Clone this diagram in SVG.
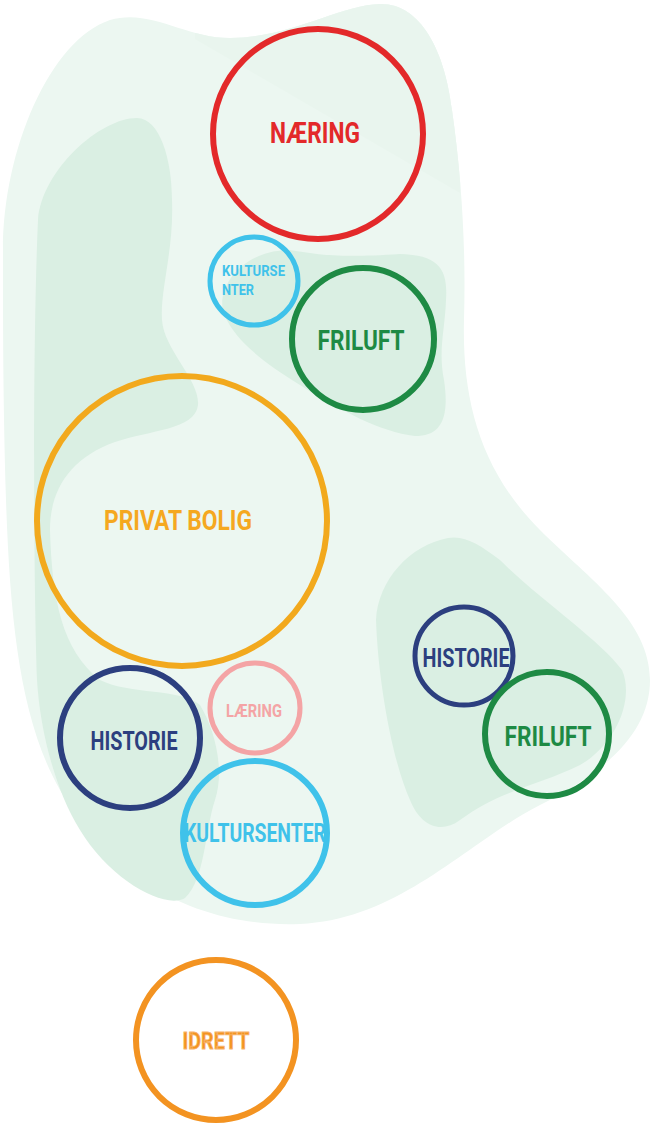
<svg xmlns="http://www.w3.org/2000/svg" width="650" height="1124" viewBox="0 0 650 1124">
<defs>
<clipPath id="outerClip"><path d="M 3,250 C 3,150 50,40 110,20 C 150,8 185,38 230,38 C 290,38 340,5 380,4 C 420,3 445,50 452,110 C 462,180 466,250 464,320 C 462,400 480,470 540,530 C 590,580 650,620 650,680 C 650,730 610,770 540,805 C 470,840 400,920 300,924 C 200,928 110,880 60,790 C 20,720 10,620 6,500 C 3,400 3,330 3,250 Z"/></clipPath>
</defs>
<style>
.bg{fill:#ecf7f1}
.bg2{fill:#daefe3}
.ring{fill:none}
.lbl{font-family:Roboto,"Liberation Sans",sans-serif;font-weight:700;text-anchor:middle}
</style>
<rect width="650" height="1124" fill="#ffffff"/>
<g id="background">
<path class="bg" d="M 3,250 C 3,150 50,40 110,20 C 150,8 185,38 230,38 C 290,38 340,5 380,4 C 420,3 445,50 452,110 C 462,180 466,250 464,320 C 462,400 480,470 540,530 C 590,580 650,620 650,680 C 650,730 610,770 540,805 C 470,840 400,920 300,924 C 200,928 110,880 60,790 C 20,720 10,620 6,500 C 3,400 3,330 3,250 Z"/>
<polygon points="195,39 460,193 470,0 195,0" fill="#e9f5ee" clip-path="url(#outerClip)"/>
<path class="bg2" d="M 137,118 C 160,118 172,160 172,200 C 174,250 160,290 162,320 C 164,350 200,380 198,405 C 195,430 150,430 115,442 C 70,458 50,490 50,530 C 52,600 62,650 100,680 C 130,695 180,688 200,705 C 215,730 225,770 215,800 C 205,830 205,880 185,898 C 165,910 110,880 80,830 C 55,790 40,730 37,680 C 33,560 33,330 38,220 C 42,170 100,118 137,118 Z"/>
<path class="bg2" d="M 224,314 C 215,290 240,250 290,250 C 320,255 340,258 400,254 C 440,255 448,270 446,300 C 445,330 438,350 444,380 C 450,420 440,436 415,436 C 380,432 340,410 300,385 C 260,360 235,340 224,314 Z"/>
<path class="bg2" d="M 448,538 C 410,545 378,580 376,620 C 378,680 392,760 410,800 C 420,825 440,835 460,820 C 500,790 540,785 580,765 C 615,745 635,700 622,670 C 600,640 540,600 500,560 C 480,545 465,535 448,538 Z"/>
</g>
<g id="connectors"></g>
<g id="naering">
<circle class="ring" cx="318" cy="134" r="105" stroke="#e3292a" stroke-width="6"/>
<text class="lbl" x="315" y="143" font-size="29" fill="#e3292a" textLength="90" lengthAdjust="spacingAndGlyphs">NÆRING</text>
</g>
<g id="kultursenter-small">
<circle class="ring" cx="254" cy="281" r="44" stroke="#3fc2ea" stroke-width="5"/>
<text x="222" y="275.5" font-family="Roboto,'Liberation Sans',sans-serif" font-weight="700" font-size="15" fill="#3fc2ea" textLength="63" lengthAdjust="spacingAndGlyphs">KULTURSE</text>
<text x="222" y="294.5" font-family="Roboto,'Liberation Sans',sans-serif" font-weight="700" font-size="15" fill="#3fc2ea" textLength="32" lengthAdjust="spacingAndGlyphs">NTER</text>
</g>
<g id="friluft-top">
<circle class="ring" cx="363" cy="339" r="71" stroke="#1e8a44" stroke-width="6"/>
<text class="lbl" x="361" y="350" font-size="27" fill="#1e8a44" textLength="87" lengthAdjust="spacingAndGlyphs">FRILUFT</text>
</g>
<g id="privat-bolig">
<circle class="ring" cx="182" cy="521" r="145" stroke="#f2a91d" stroke-width="6"/>
<text class="lbl" x="178" y="530" font-size="27" fill="#f5a81f" textLength="148" lengthAdjust="spacingAndGlyphs">PRIVAT BOLIG</text>
</g>
<g id="historie-left">
<circle class="ring" cx="130" cy="738" r="70" stroke="#2c3f7f" stroke-width="6"/>
<text class="lbl" x="134" y="749.5" font-size="25" fill="#2c3f7f" textLength="87" lengthAdjust="spacingAndGlyphs">HISTORIE</text>
</g>
<g id="laering">
<circle class="ring" cx="255" cy="708" r="45" stroke="#f4a4a5" stroke-width="5"/>
<text class="lbl" x="254" y="716.5" font-size="19" fill="#f4a4a5" textLength="56" lengthAdjust="spacingAndGlyphs">LÆRING</text>
</g>
<g id="kultursenter-big">
<circle class="ring" cx="255" cy="833" r="72" stroke="#3fc2ea" stroke-width="6"/>
<text class="lbl" x="255" y="841.5" font-size="25" fill="#3fc2ea" textLength="142" lengthAdjust="spacingAndGlyphs">KULTURSENTER</text>
</g>
<g id="historie-right">
<circle class="ring" cx="464" cy="656" r="49" stroke="#2c3f7f" stroke-width="5"/>
<text class="lbl" x="466" y="666.5" font-size="25" fill="#2c3f7f" textLength="87" lengthAdjust="spacingAndGlyphs">HISTORIE</text>
</g>
<g id="friluft-right">
<circle class="ring" cx="547" cy="734" r="62" stroke="#1e8a44" stroke-width="6"/>
<text class="lbl" x="548" y="745.5" font-size="27" fill="#1e8a44" textLength="87" lengthAdjust="spacingAndGlyphs">FRILUFT</text>
</g>
<g id="idrett">
<circle class="ring" cx="216" cy="1040" r="80" stroke="#f39321" stroke-width="6"/>
<text class="lbl" x="216" y="1048.5" font-size="24" fill="#f39321" stroke="#f7b46a" stroke-width="0.8" textLength="67" lengthAdjust="spacingAndGlyphs">IDRETT</text>
</g>
</svg>
